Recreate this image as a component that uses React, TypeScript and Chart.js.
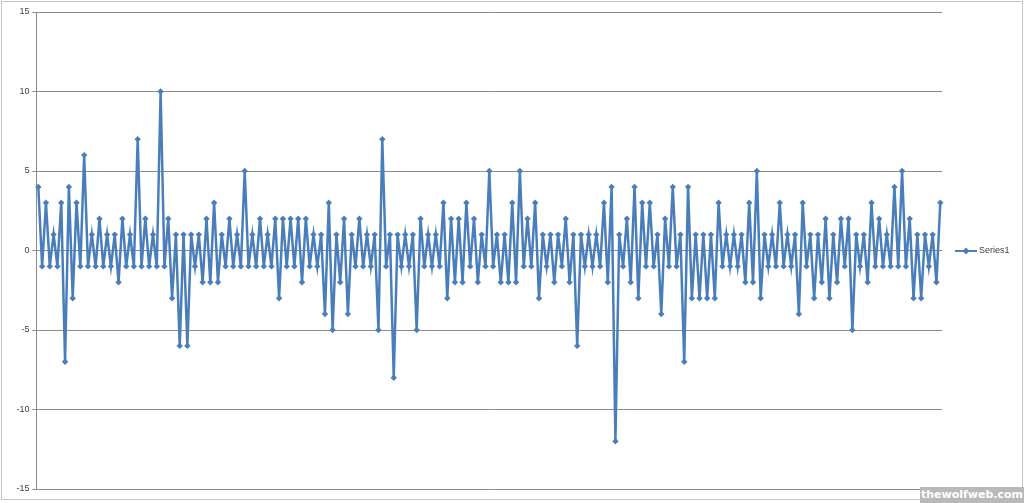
import React, { useEffect, useRef } from "react";
import { Chart, registerables } from "chart.js";

Chart.register(...registerables);

const series1: number[] = [
  4, -1, 3, -1, 1, -1, 3, -7, 4, -3, 3, -1, 6, -1, 1, -1, 2, -1, 1, -1, 1, -2, 2, -1, 1, -1, 7, -1, 2, -1, 1, -1,
  10, -1, 2, -3, 1, -6, 1, -6, 1, -1, 1, -2, 2, -2, 3, -2, 1, -1, 2, -1, 1, -1, 5, -1, 1, -1, 2, -1,
  1, -1, 2, -3, 2, -1, 2, -1, 2, -2, 2, -1, 1, -1, 1, -4, 3, -5, 1, -2, 2, -4, 1, -1, 2, -1, 1, -1, 1, -5,
  7, -1, 1, -8, 1, -1, 1, -1, 1, -5, 2, -1, 1, -1, 1, -1, 3, -3, 2, -2, 2, -2, 3, -1, 2, -2, 1, -1, 5, -1,
  1, -2, 1, -2, 3, -2, 5, -1, 2, -1, 3, -3, 1, -1, 1, -2, 1, -1, 2, -2, 1, -6, 1, -1, 1, -1, 1, -1, 3, -2,
  4, -12, 1, -1, 2, -2, 4, -3, 3, -1, 3, -1, 1, -4, 2, -1, 4, -1, 1, -7, 4, -3, 1, -3, 1, -3, 1, -3, 3, -1,
  1, -1, 1, -1, 1, -2, 3, -2, 5, -3, 1, -1, 1, -1, 3, -1, 1, -1, 1, -4, 3, -1, 1, -3, 1, -2, 2, -3, 1,
  -2, 2, -1, 2, -5, 1, -1, 1, -2, 3, -1, 2, -1, 1, -1, 4, -1, 5, -1, 2, -3, 1, -3, 1, -1, 1, -2, 3,
];

const categories: string[] = series1.map((_, i) => String(i + 1));
const yTicks: number[] = [-15, -10, -5, 0, 5, 10, 15];
const seriesName = "Series1";
const lineColor = "#4A7EBB";

export default function App() {
  const canvasRef = useRef<HTMLCanvasElement | null>(null);

  useEffect(() => {
    document.body.style.margin = "0";
    const canvas = canvasRef.current;
    if (!canvas) return;

    const frameAndLegend = {
      id: "frameAndLegend",
      afterDraw(chart: any) {
        const ctx = chart.ctx as CanvasRenderingContext2D;
        ctx.save();
        ctx.strokeStyle = "#c4c4c4";
        ctx.lineWidth = 1;
        ctx.strokeRect(1.5, 1.5, 1021, 498);
        const ly = 251;
        ctx.strokeStyle = lineColor;
        ctx.lineWidth = 2;
        ctx.beginPath();
        ctx.moveTo(955, ly);
        ctx.lineTo(977, ly);
        ctx.stroke();
        ctx.fillStyle = lineColor;
        ctx.beginPath();
        ctx.moveTo(966, ly - 3.5);
        ctx.lineTo(969.5, ly);
        ctx.lineTo(966, ly + 3.5);
        ctx.lineTo(962.5, ly);
        ctx.closePath();
        ctx.fill();
        ctx.fillStyle = "#404040";
        ctx.font = "9px 'Liberation Sans', Arial, sans-serif";
        ctx.textBaseline = "middle";
        ctx.textAlign = "left";
        ctx.fillText(seriesName, 979, ly);
        ctx.restore();
      },
    };

    const chart = new Chart(canvas, {
      type: "line",
      data: {
        labels: categories,
        datasets: [
          {
            label: seriesName,
            data: series1,
            borderColor: lineColor,
            backgroundColor: lineColor,
            borderWidth: 2.5,
            pointStyle: "rectRot",
            pointRadius: 3.2,
            pointBorderWidth: 0,
            pointBackgroundColor: lineColor,
            tension: 0,
            fill: false,
          },
        ],
      },
      options: {
        animation: false,
        responsive: false,
        devicePixelRatio: 1,
        layout: { padding: { left: 0, top: 12, right: 81.8, bottom: 14 } },
        plugins: {
          legend: { display: false },
          tooltip: { enabled: false },
        },
        scales: {
          x: {
            type: "category",
            offset: true,
            display: false,
          },
          y: {
            min: -15,
            max: 15,
            afterFit(scale: any) {
              scale.width = 36.4;
            },
            afterBuildTicks(scale: any) {
              scale.ticks = yTicks.map((v) => ({ value: v }));
            },
            grid: {
              color: "#8c8c8c",
              lineWidth: 1,
              tickLength: 4,
              drawTicks: true,
            },
            border: { display: true, color: "#8c8c8c", width: 1 },
            ticks: {
              color: "#404040",
              padding: 3,
              font: { family: "'Liberation Sans', Arial, sans-serif", size: 9 },
            },
          },
        },
      },
      plugins: [frameAndLegend],
    });

    return () => {
      chart.destroy();
    };
  }, []);

  return (
    <div style={{ position: "relative", width: 1024, height: 503, background: "#ffffff", overflow: "hidden" }}>
      <canvas ref={canvasRef} width={1024} height={503} style={{ display: "block", width: 1024, height: 503 }} />
      <div
        style={{
          position: "absolute",
          right: 0,
          bottom: 0,
          width: 104,
          height: 16,
          background: "#b9b9b9",
          color: "#ffffff",
          font: "bold 11px 'DejaVu Sans', sans-serif",
          lineHeight: "16px",
          textAlign: "center",
          whiteSpace: "nowrap",
        }}
      >
        thewolfweb.com
      </div>
    </div>
  );
}
